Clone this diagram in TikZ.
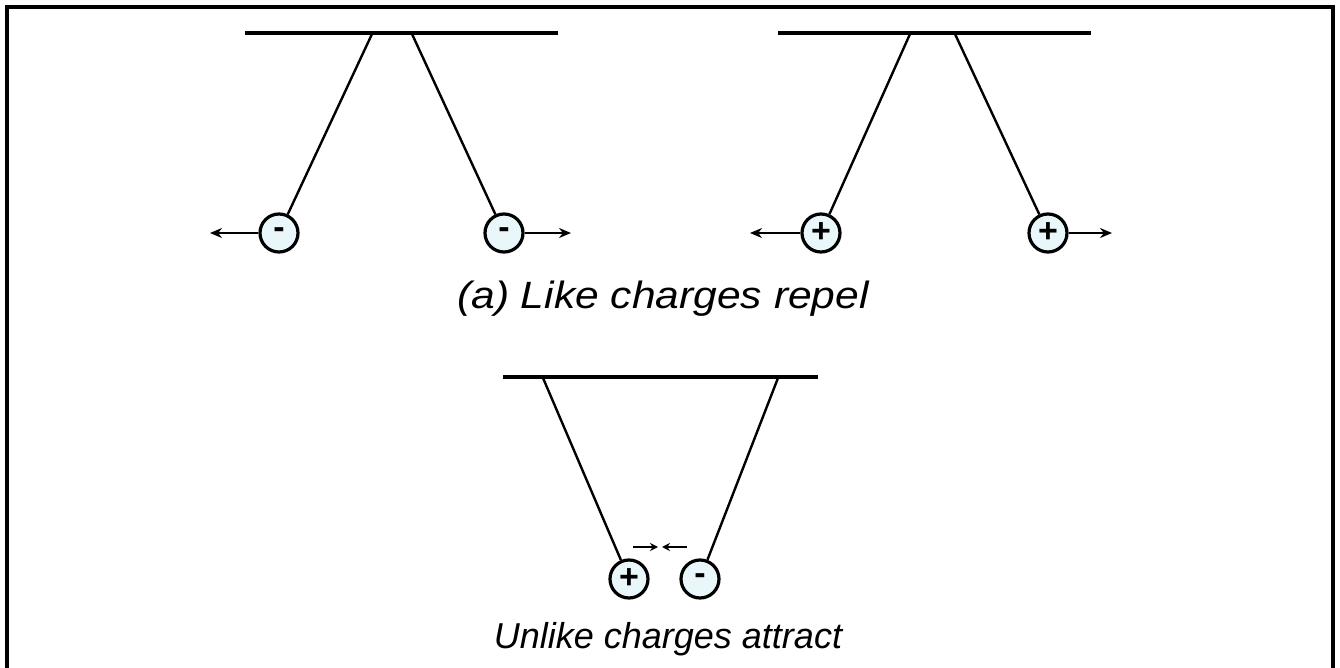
\documentclass[tikz,border=0pt]{standalone}
\usepackage{fontspec}
\newfontfamily\arialfont{Liberation Sans}
\usetikzlibrary{arrows.meta}
\definecolor{ballfill}{HTML}{EAF7FA}
\tikzset{
  ball/.style={circle, draw=black, line width=1.6pt, fill=ballfill, minimum size=19pt, inner sep=0pt, font=\arialfont\bfseries\fontsize{17}{17}\selectfont},
  bar/.style={line width=2.4pt},
  thread/.style={line width=1.2pt},
  force/.style={line width=1.2pt, -{Stealth[length=6pt,width=5pt]}},
  smallforce/.style={line width=1pt, -{Stealth[length=4pt,width=4pt]}},
  caption/.style={font=\arialfont\itshape\fontsize{18}{18}\selectfont, anchor=base, inner sep=0pt},
  frame/.style={line width=2pt}
}
\begin{document}
\begin{tikzpicture}[x=0.5pt,y=-0.5pt]
\useasboundingbox (0,0) rectangle (1340,668);
% frame
\coordinate (f1) at (7,668);
\coordinate (f2) at (7,7);
\coordinate (f3) at (1333,7);
\coordinate (f4) at (1333,668);
\draw[frame] (f1) -- (f2) -- (f3) -- (f4);

% --- group 1: two negatives
\coordinate (b1l) at (245,33);
\coordinate (b1r) at (558,33);
\draw[bar] (b1l) -- (b1r);
\coordinate (p1a) at (372,34);
\coordinate (p1b) at (412,34);
\node[ball] (n1) at (279,233) {-};
\node[ball] (n2) at (504,233) {-};
\draw[thread] (p1a) -- (n1);
\draw[thread] (p1b) -- (n2);
\coordinate (a1) at (210,233);
\coordinate (a2) at (571,233);
\draw[force] (n1.west) -- (a1);
\draw[force] (n2.east) -- (a2);

% --- group 2: two positives
\coordinate (b2l) at (778,33);
\coordinate (b2r) at (1091,33);
\draw[bar] (b2l) -- (b2r);
\coordinate (p2a) at (910,34);
\coordinate (p2b) at (955,34);
\node[ball] (q1) at (821,233) {+};
\node[ball] (q2) at (1048,233) {+};
\draw[thread] (p2a) -- (q1);
\draw[thread] (p2b) -- (q2);
\coordinate (a3) at (750,233);
\coordinate (a4) at (1112,233);
\draw[force] (q1.west) -- (a3);
\draw[force] (q2.east) -- (a4);

\node[caption, font=\arialfont\itshape\fontsize{19}{19}\selectfont, xscale=1.12] (cap1) at (663,309) {(a) Like charges repel};

% --- group 3: unlike charges
\coordinate (b3l) at (503,377);
\coordinate (b3r) at (818,377);
\draw[bar] (b3l) -- (b3r);
\coordinate (p3a) at (543,378);
\coordinate (p3b) at (778,378);
\node[ball] (u1) at (629,579) {+};
\node[ball] (u2) at (700,579) {-};
\draw[thread] (p3a) -- (u1);
\draw[thread] (p3b) -- (u2);
\coordinate (s1) at (633,547);
\coordinate (s2) at (658,547);
\coordinate (s3) at (687,547);
\coordinate (s4) at (662,547);
\draw[smallforce] (s1) -- (s2);
\draw[smallforce] (s3) -- (s4);

\node[caption] (cap2) at (668,648) {Unlike charges attract};
\end{tikzpicture}
\end{document}
